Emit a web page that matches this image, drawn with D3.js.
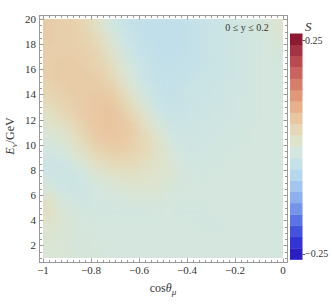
<!DOCTYPE html>
<html><head><meta charset="utf-8">
<script src="https://cdn.jsdelivr.net/npm/d3@7"></script>
<style>body{margin:0;background:#fff}svg{display:block}text{font-family:'Liberation Serif','DejaVu Serif',serif;fill:#333}</style>
</head><body><svg id="c" width="332" height="304" font-family="Liberation Serif, DejaVu Serif, serif"></svg>
<script>
// cos(theta_mu) cell centres and E_nu cell centres (GeV)
const cosCenters = d3.range(20).map(i => -0.975 + 0.05 * i);
const eCenters = [19.5,18.5,17.5,16.5,15.5,14.5,13.5,12.5,11.5,10.5,9.5,8.5,7.5,6.5,5.5,4.5,3.5,2.5,1.5];
// S values (in units of 0.01), one row per eCenters entry, columns along cosCenters
const sRows = [
 [5.5,5,5,4,2,-1,-3,-4,-4.5,-4.5,-4.5,-4.5,-4,-3.5,-3,-2,-1.5,-1,-0.5,0.5],
 [5.5,5,5,4.5,3,0.5,-2,-3.5,-4.5,-4.5,-4.5,-4.5,-4,-3.5,-3,-2.5,-2,-1.5,-1,0],
 [5,5,5,5,4,2,-1,-3,-4,-4.5,-4.5,-4.5,-4,-3.5,-3,-2.5,-2,-1.5,-1,-0.5],
 [5,5.5,5.5,5,4.5,3,0.5,-2,-3.5,-4,-4.5,-4,-4,-3.5,-3,-2.5,-2,-1.5,-1,-1],
 [5,5.5,5.5,5.5,5,4,1.5,-1,-3,-4,-4,-4,-3.5,-3,-3,-2.5,-2,-1.5,-1,-1],
 [4.5,5,5.5,5.5,5.5,5,3,0,-2,-3.5,-4,-3.5,-3,-3,-2.5,-2,-2,-1.5,-1,-1],
 [3.5,4.5,5,5.5,6,6,4.5,2,-1,-3,-3.5,-3.5,-3,-2.5,-2.5,-2,-1.5,-1.5,-1,-1],
 [2,3.5,4.5,5.5,6,6.5,5.5,3.5,1,-2,-3,-3,-2.5,-2.5,-2,-2,-1.5,-1.5,-1,-1],
 [1,2,3.5,5,6,6.5,6,5,2.5,0,-2,-2.5,-2.5,-2,-2,-1.5,-1.5,-1,-1,-1],
 [-0.5,0.5,2,4,5.5,6,6,5,3.5,1.5,-1,-2,-2,-2,-1.5,-1.5,-1.5,-1,-1,-1],
 [-1.5,-1,0.5,2.5,4,5,5,4.5,3.5,2,0,-1.5,-2,-1.5,-1.5,-1.5,-1,-1,-1,-1],
 [-2.5,-2.5,-1.5,0.5,2,3,3.5,3.5,2.5,1.5,0.5,-1,-1.5,-1.5,-1.5,-1,-1,-1,-1,-1],
 [-2,-2.5,-2.5,-1.5,0,1,1.5,2,1.5,1,0.5,-0.5,-1,-1.5,-1,-1,-1,-1,-1,-1],
 [-0.5,-2,-2.5,-2,-1,-0.5,0,0.5,0.5,0.5,-0.5,-1,-1,-1,-1,-1,-1,-1,-1,-1],
 [2,-0.5,-1.5,-2,-1.5,-1,-1,-0.5,-0.5,-0.5,-1,-1,-1,-1,-1,-1,-1,-1,-1,-1],
 [2,0.5,-0.5,-1,-1.5,-1.5,-1.5,-1.5,-1.5,-1,-1,-1.5,-1.5,-1.5,-1,-1,-1,-1,-1,-1],
 [1,0.5,-0.5,-1,-1,-1,-1,-1,-1,-1,-1,-1,-1,-1.5,-1.5,-1,-1,-1,-1,-1],
 [0.5,0,-0.5,-0.5,-1,-1,-1,-1,-1,-1,-1,-1,-1,-1,-1,-1,-1,-1,-1,-1],
 [0,0,-0.5,-0.5,-0.5,-1,-1,-1,-1,-1,-1,-1,-1,-1,-1,-1,-1,-1,-1,-1]
];
const xTickLabels = [-1,-0.8,-0.6,-0.4,-0.2,0];
const yTickLabels = [2,4,6,8,10,12,14,16,18,20];
const legendBands = [
 "#2a1ec4","#3434d4","#4552de","#5a74e6","#7494ea","#8cb0ee","#a2c6ee","#b6d8ee","#c6e2e8","#d3e6df",
 "#dee3cb","#e6d8b6","#e9c6a0","#e6b08b","#e09878","#d67f6a","#c8645d","#b84a50","#a43442","#8e1a32"];
const legendLabels = ["0.25","\u22120.25"];

const FONT = "'Liberation Serif','DejaVu Serif',serif";
const svg = d3.select("#c");
const x = d3.scaleLinear().domain([-1,0]).range([43,283]);
const y = d3.scaleLinear().domain([1,20]).range([258,19]);
const bandMids = legendBands.map((c,i) => -0.2375 + 0.025*i);
const color = d3.scaleLinear().domain(bandMids).range(legendBands).clamp(true);

const defs = svg.append("defs");
defs.append("clipPath").attr("id","clip").append("rect")
  .attr("x",x(-1)).attr("y",y(20)).attr("width",x(0)-x(-1)).attr("height",y(1)-y(20));
const f = defs.append("filter").attr("id","blur").attr("x","-10%").attr("y","-10%").attr("width","120%").attr("height","120%")
  .attr("color-interpolation-filters","sRGB");
f.append("feGaussianBlur").attr("stdDeviation",4.5);
const ct = f.append("feComponentTransfer");
ct.append("feFuncA").attr("type","table").attr("tableValues","1 1");

const cells = [];
sRows.forEach((row,r) => row.forEach((v,j) => cells.push({c:cosCenters[j], e:eCenters[r], v:v/100})));
const g = svg.append("g").attr("clip-path","url(#clip)").append("g").attr("filter","url(#blur)");
const wC = 0.05, hE = 1;
g.selectAll("rect").data(cells).join("rect")
  .attr("x", d => x(d.c - wC/2))
  .attr("y", d => y(d.e + (d.e===19.5?hE:hE/2)))
  .attr("width", d => x(d.c + wC/2) - x(d.c - wC/2) + 0.5)
  .attr("height", d => y(d.e - (d.e===1.5?hE:hE/2)) - y(d.e + (d.e===19.5?hE:hE/2)) + 0.5)
  .attr("fill", d => color(d.v));

// frame
const fx0 = 39.5, fx1 = 287.5, fy0 = 15.5, fy1 = 262.5;
svg.append("rect").attr("x",fx0).attr("y",fy0).attr("width",fx1-fx0).attr("height",fy1-fy0)
  .attr("fill","none").attr("stroke","#999").attr("stroke-width",1);
const tk = svg.append("g").attr("stroke","#999").attr("stroke-width",1);
d3.range(0,41).map(i => -1 + 0.025*i).forEach(v => {
  const major = Math.abs(Math.round(v*5) - v*5) < 1e-6;
  const L = major ? 4 : 2.5;
  const px = Math.round(x(v)) + 0.5;
  tk.append("line").attr("x1",px).attr("x2",px).attr("y1",fy1).attr("y2",fy1-L);
  tk.append("line").attr("x1",px).attr("x2",px).attr("y1",fy0).attr("y2",fy0+L);
});
d3.range(1,20.01,0.5).forEach(v => {
  const major = v % 2 === 0;
  const L = major ? 4 : 2.5;
  const py = Math.round(y(v)) + 0.5;
  tk.append("line").attr("y1",py).attr("y2",py).attr("x1",fx0).attr("x2",fx0+L);
  tk.append("line").attr("y1",py).attr("y2",py).attr("x1",fx1).attr("x2",fx1-L);
});
svg.append("g").selectAll("text").data(xTickLabels).join("text")
  .attr("font-family",FONT)
  .attr("x", d => x(d)).attr("y", 274).attr("text-anchor","middle").attr("font-size",11)
  .text(d => d === 0 ? "0" : d3.format("")(d).replace("-","\u2212"));
svg.append("g").selectAll("text").data(yTickLabels).join("text")
  .attr("font-family",FONT)
  .attr("x", 36).attr("y", d => y(d) + 4).attr("text-anchor","end").attr("font-size",11)
  .text(d => d);

// axis labels
const xl = svg.append("text").attr("font-family",FONT).attr("x",163).attr("y",292).attr("text-anchor","middle").attr("font-size",12);
xl.append("tspan").text("cos");
xl.append("tspan").attr("font-style","italic").text("\u03b8");
xl.append("tspan").attr("font-style","italic").attr("font-size",9).attr("dy",3).text("\u03bc");
const yl = svg.append("text").attr("font-family",FONT).attr("transform","translate(14,136) rotate(-90)").attr("text-anchor","middle").attr("font-size",12);
yl.append("tspan").attr("font-style","italic").text("E");
yl.append("tspan").attr("font-style","italic").attr("font-size",9).attr("dy",3).text("\u03bd");
yl.append("tspan").attr("dy",-3).text("/GeV");

svg.append("text").attr("font-family",FONT).attr("x",247).attr("y",31).attr("text-anchor","middle").attr("font-size",10)
  .text("0 \u2264 y \u2264 0.2");

// colour bar
const ly = d3.scaleLinear().domain([-0.25,0.25]).range([259.5,33.5]);
svg.append("g").selectAll("rect").data(legendBands).join("rect")
  .attr("x",290).attr("width",12.5)
  .attr("y",(d,i) => ly(-0.25 + 0.025*(i+1)))
  .attr("height",(d,i) => ly(-0.25 + 0.025*i) - ly(-0.25 + 0.025*(i+1)) + 0.3)
  .attr("fill", d => d);
svg.append("g").attr("stroke","#555").selectAll("line").data([40.5,254.5]).join("line")
  .attr("x1",302.5).attr("x2",305).attr("y1",d=>d).attr("y2",d=>d);
svg.append("g").selectAll("text").data(legendLabels).join("text")
  .attr("font-family",FONT)
  .attr("x",305).attr("y",(d,i) => i===0 ? 44 : 257).attr("font-size",10).text(d => d);
svg.append("text").attr("font-family",FONT).attr("x",305).attr("y",31).attr("font-size",13).attr("font-style","italic").text("S");
</script></body></html>
